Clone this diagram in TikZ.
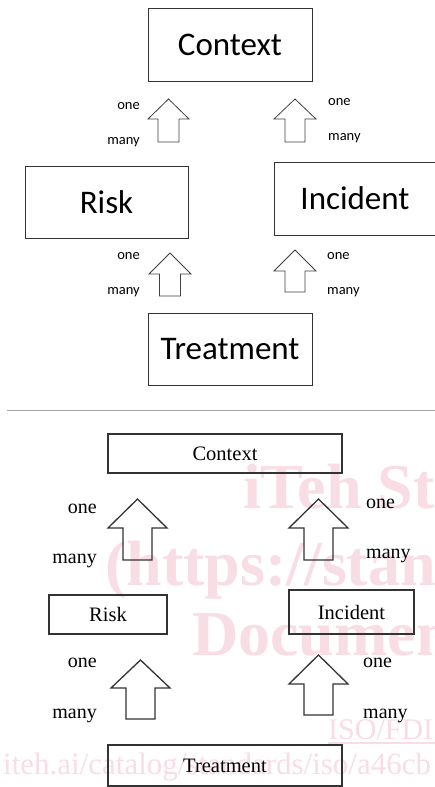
\documentclass[tikz,border=0pt]{standalone}
\usepackage{fontspec}
\setmainfont{Carlito}
\newfontfamily\serifb{Liberation Serif}
\definecolor{wm}{RGB}{249,221,229}
\newcommand\blockup[7]{% style, cx, tip y, head base y, bottom y, head half, shaft half
  \draw[#1] (#2,#3) -- ({#2+#6},#4) -- ({#2+#7},#4) -- ({#2+#7},#5) -- ({#2-#7},#5) -- ({#2-#7},#4) -- ({#2-#6},#4) -- cycle;}
\begin{document}
\begin{tikzpicture}[x=1pt,y=-1pt,
  topbox/.style={draw=black!80, line width=0.9pt, inner sep=0pt, font=\fontsize{33}{40}\selectfont},
  toplab/.style={font=\fontsize{14.5}{17}\selectfont, inner sep=0pt},
  botbox/.style={draw=black!80, line width=1.5pt, inner sep=0pt, font=\serifb\fontsize{20.5}{24}\selectfont},
  botlab/.style={font=\serifb\fontsize{20}{24}\selectfont, inner sep=0pt},
  toparr/.style={draw=black!75, line width=0.8pt},
  botarr/.style={draw=black!80, line width=1.3pt},
  wmtext/.style={text=wm, inner sep=0pt, anchor=base west},
  wmbig/.style={wmtext, font=\serifb\bfseries\fontsize{64}{70}\selectfont}]
\useasboundingbox[fill=white] (0,0) rectangle (435,787);

% watermark
\node[wmbig] (wm1) at (243,508) {iTeh St};
\node[wmbig] (wm2) at (105,585) {(https://stan};
\node[wmbig] (wm3) at (192,655) {Documen};
\node[wmtext, font=\serifb\fontsize{30}{34}\selectfont] (wm4) at (328,739) {ISO/FDI};
\draw[wm, line width=1.4pt] (wm4.base west) ++(0,4) coordinate (u1) -- (437,743);
\node[wmtext, font=\serifb\fontsize{31}{36}\selectfont] (wm5) at (3,774) {iteh.ai/catalog/standards/iso/a46cb};

% top diagram
\node[topbox, minimum width=164pt, minimum height=73pt] (ctx) at (230,44.5) {Context};
\node[topbox, minimum width=163pt, minimum height=72pt] (risk) at (106.5,202) {Risk};
\node[topbox, minimum width=162pt, minimum height=73pt] (inc) at (355,198.5) {Incident};
\node[topbox, minimum width=164pt, minimum height=72pt] (treat) at (230,349) {Treatment};

\blockup{toparr}{168.5}{99}{119}{142}{20.5}{10.5}
\blockup{toparr}{295}{99}{119}{142}{21}{10}
\blockup{toparr}{170}{253}{274}{296}{21}{10.5}
\blockup{toparr}{295}{250}{271}{292}{21}{10}

\node[toplab, anchor=mid east] (t1o) at (140,107.5) {one};
\node[toplab, anchor=mid east] (t1m) at (140,142.5) {many};
\node[toplab, anchor=mid west] (t2o) at (328,103.5) {one};
\node[toplab, anchor=mid west] (t2m) at (328,138.5) {many};
\node[toplab, anchor=mid east] (t3o) at (140,257) {one};
\node[toplab, anchor=mid east] (t3m) at (140,292.5) {many};
\node[toplab, anchor=mid west] (t4o) at (327,257) {one};
\node[toplab, anchor=mid west] (t4m) at (327,292.5) {many};

% separator
\draw[black!35, line width=1pt] (7,410) -- (436,410);

% bottom diagram
\node[botbox, minimum width=234pt, minimum height=39pt] (bctx) at (225,453.5) {Context};
\node[botbox, minimum width=118pt, minimum height=39pt] (brisk) at (108,614.5) {Risk};
\node[botbox, minimum width=125pt, minimum height=44pt] (binc) at (351.5,612) {Incident};
\node[botbox, minimum width=234pt, minimum height=41pt] (btreat) at (225,765.5) {Treatment};

\blockup{botarr}{137.5}{499}{528}{560}{29.5}{14.5}
\blockup{botarr}{318.5}{499}{528}{560}{29.5}{14.5}
\blockup{botarr}{140.5}{660}{688}{719}{29.5}{14.5}
\blockup{botarr}{318.5}{655}{684}{715}{29.5}{14.5}

\node[botlab, anchor=mid east] (b1o) at (97,511) {one};
\node[botlab, anchor=mid east] (b1m) at (97,561) {many};
\node[botlab, anchor=mid west] (b2o) at (366,506) {one};
\node[botlab, anchor=mid west] (b2m) at (366,556) {many};
\node[botlab, anchor=mid east] (b3o) at (97,665) {one};
\node[botlab, anchor=mid east] (b3m) at (97,716) {many};
\node[botlab, anchor=mid west] (b4o) at (363,665) {one};
\node[botlab, anchor=mid west] (b4m) at (363,716) {many};
\end{tikzpicture}
\end{document}
